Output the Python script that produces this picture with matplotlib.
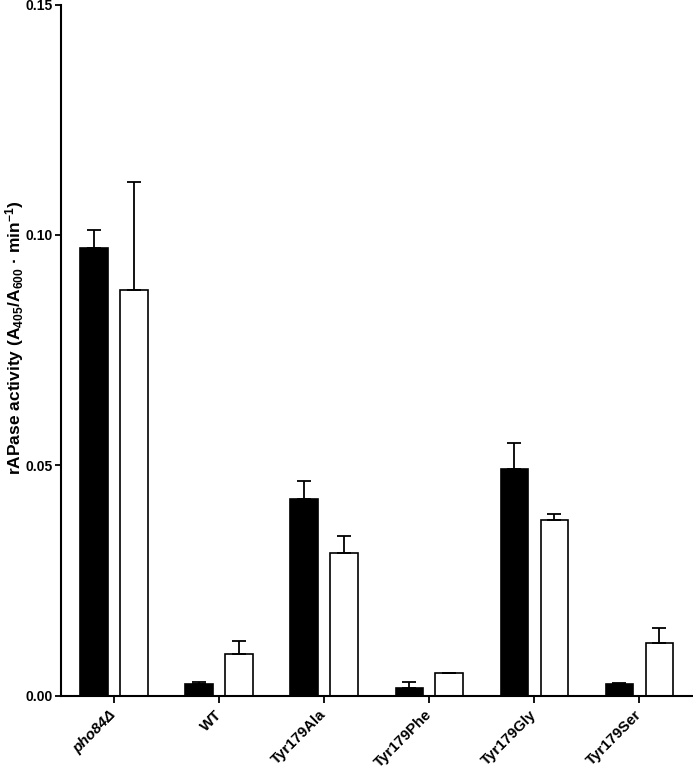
import numpy as np
import matplotlib
matplotlib.use('Agg')
import matplotlib.pyplot as plt

plt.rcParams['font.family'] = ['Liberation Sans', 'DejaVu Sans']
plt.rcParams['font.weight'] = 'bold'
plt.rcParams['mathtext.fontset'] = 'custom'
plt.rcParams['mathtext.rm'] = 'Liberation Sans:bold'
plt.rcParams['mathtext.bf'] = 'Liberation Sans:bold'
plt.rcParams['mathtext.default'] = 'bf'

# data
strains = ['pho84Δ', 'WT', 'Tyr179Ala', 'Tyr179Phe', 'Tyr179Gly', 'Tyr179Ser']
black_vals = [0.0972, 0.0025, 0.0426, 0.0016, 0.0491, 0.0025]
black_err = [0.0039, 0.0005, 0.0039, 0.0014, 0.0058, 0.0002]
white_vals = [0.0881, 0.0091, 0.0310, 0.0049, 0.0381, 0.0115]
white_err = [0.0235, 0.0028, 0.0036, 0.0001, 0.0013, 0.0033]
yticks = [0.00, 0.05, 0.10, 0.15]

fig = plt.figure(figsize=(6.93, 7.7), dpi=100)
ax = fig.add_axes([0.088, 0.0965, 0.912, 0.8975])

x = np.arange(len(strains))
w = 0.262
off = 0.19
lw = 1.2
ax.bar(x - off, black_vals, w, color='black', edgecolor='black', linewidth=lw,
       yerr=[np.zeros(len(x)), black_err],
       error_kw=dict(ecolor='black', elinewidth=1.3, capsize=5, capthick=1.3))
ax.bar(x + off, white_vals, w, color='white', edgecolor='black', linewidth=lw,
       yerr=[np.zeros(len(x)), white_err],
       error_kw=dict(ecolor='black', elinewidth=1.3, capsize=5, capthick=1.3))

ax.set_xlim(-0.505, 5.51)
ax.set_ylim(0, 0.15)
ax.set_yticks(yticks)
ax.set_yticklabels(['%.2f' % v for v in yticks], fontsize=10, fontweight='bold')
ax.set_xticks(x)
ax.set_xticklabels(strains, rotation=45, ha='right', va='center',
                   rotation_mode='anchor', fontsize=10.8, fontweight='bold')
ax.get_xticklabels()[0].set_fontstyle('italic')

for s in ['top', 'right']:
    ax.spines[s].set_visible(False)
for s in ['left', 'bottom']:
    ax.spines[s].set_linewidth(1.5)
ax.tick_params(axis='both', width=1.3, length=4, direction='out')
ax.tick_params(axis='x', length=5, pad=7)
ax.tick_params(axis='y', pad=2)

ax.set_ylabel(r'rAPase activity (A$_{405}$/A$_{600}$ · min$^{-1}$)',
              fontsize=12.5, fontweight='bold')
ax.yaxis.set_label_coords(-0.056, 0.518)

fig.savefig('out.png', dpi=100)
